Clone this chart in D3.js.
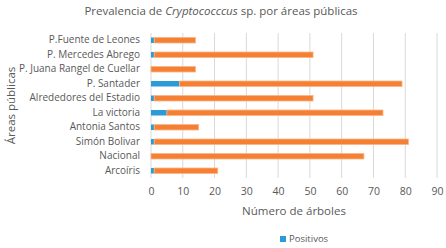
<!DOCTYPE html>
<html>
<head>
<meta charset="utf-8">
<script src="https://cdn.jsdelivr.net/npm/d3@7"></script>
<style>
  body { margin: 0; background: #fff; }
  text { font-family: "Open Sans", sans-serif; fill: #595959; }
</style>
</head>
<body>
<script>
// datos
const areas = ['P.Fuente de Leones', 'P. Mercedes Abrego', 'P. Juana Rangel de Cuellar', 'P. Santader',
  'Alrededores del Estadio', 'La victoria', 'Antonia Santos', 'Simón Bolivar', 'Nacional', 'Arcoíris']
const positivos = [1, 1, 0, 9, 1, 5, 1, 1, 0, 1]
const negativos = [13, 50, 14, 70, 50, 68, 14, 80, 67, 20]
const xTicks = [0, 10, 20, 30, 40, 50, 60, 70, 80, 90]

const margin = { top: 33, left: 151, right: 9, bottom: 70 }
const W = 446, H = 248
const width = W - margin.left - margin.right
const height = H - margin.top - margin.bottom

const svg = d3.select('body').append('svg').attr('width', W).attr('height', H)

// titulo
const title = svg.append('text')
  .attr('x', 221).attr('y', 15)
  .attr('text-anchor', 'middle')
  .style('font-size', '11.5px')
title.append('tspan').text('Prevalencia de ')
title.append('tspan').style('font-style', 'italic').text('Cryptococccus')
title.append('tspan').text(' sp. por áreas públicas')

const g = svg.append('g').attr('transform', `translate(${margin.left},${margin.top})`)

const x = d3.scaleLinear().domain([0, 90]).range([0, width])
const y = d3.scaleBand().domain(areas).range([0, height]).paddingInner(0.62).paddingOuter(0.31)

// rejilla
g.selectAll('line.grid')
  .data(xTicks.slice(1))
  .join('line')
  .attr('class', 'grid')
  .attr('x1', d => x(d)).attr('x2', d => x(d))
  .attr('y1', 0).attr('y2', height)
  .attr('stroke', '#d9d9d9').attr('stroke-width', 1)

// eje x
const xaxis = d3.axisBottom(x).tickValues(xTicks).tickSize(0).tickPadding(10)
const gx = g.append('g').attr('transform', `translate(0,${height})`).call(xaxis)
gx.select('.domain').remove()
gx.selectAll('text').style('font-size', '10.5px').attr('fill', '#595959')

// eje y
g.append('line').attr('x1', 0).attr('x2', 0).attr('y1', 0).attr('y2', height).attr('stroke', '#d9d9d9')
const yaxis = d3.axisLeft(y).tickSize(0).tickPadding(11)
const gy = g.append('g').call(yaxis)
gy.select('.domain').remove()
gy.selectAll('text').style('font-size', '10px').attr('fill', '#595959')

// barras apiladas
const rows = areas.map((a, i) => ({ area: a, pos: positivos[i], neg: negativos[i] }))

g.selectAll('rect.pos')
  .data(rows)
  .join('rect')
  .attr('class', 'pos')
  .attr('x', x(0))
  .attr('y', d => y(d.area))
  .attr('width', d => x(d.pos) - x(0))
  .attr('height', y.bandwidth())
  .attr('fill', '#2a9bd6')

g.selectAll('rect.neg')
  .data(rows)
  .join('rect')
  .attr('class', 'neg')
  .attr('x', d => x(d.pos))
  .attr('y', d => y(d.area))
  .attr('width', d => x(d.pos + d.neg) - x(d.pos))
  .attr('height', y.bandwidth())
  .attr('fill', '#f58033')
  .attr('stroke', '#f9b58a').attr('stroke-width', 0.8)

// titulos de ejes
svg.append('text')
  .attr('x', 294).attr('y', 215)
  .attr('text-anchor', 'middle')
  .style('font-size', '11.5px')
  .text('Número de árboles')

svg.append('text')
  .attr('transform', `translate(15,${margin.top + height / 2}) rotate(-90)`)
  .attr('text-anchor', 'middle')
  .style('font-size', '11.5px')
  .text('Áreas públicas')

// leyenda
svg.append('rect').attr('x', 280).attr('y', 236).attr('width', 6).attr('height', 6).attr('fill', '#2a9bd6')
svg.append('text').attr('x', 289).attr('y', 242).style('font-size', '9.5px').text('Positivos')
</script>
</body>
</html>
